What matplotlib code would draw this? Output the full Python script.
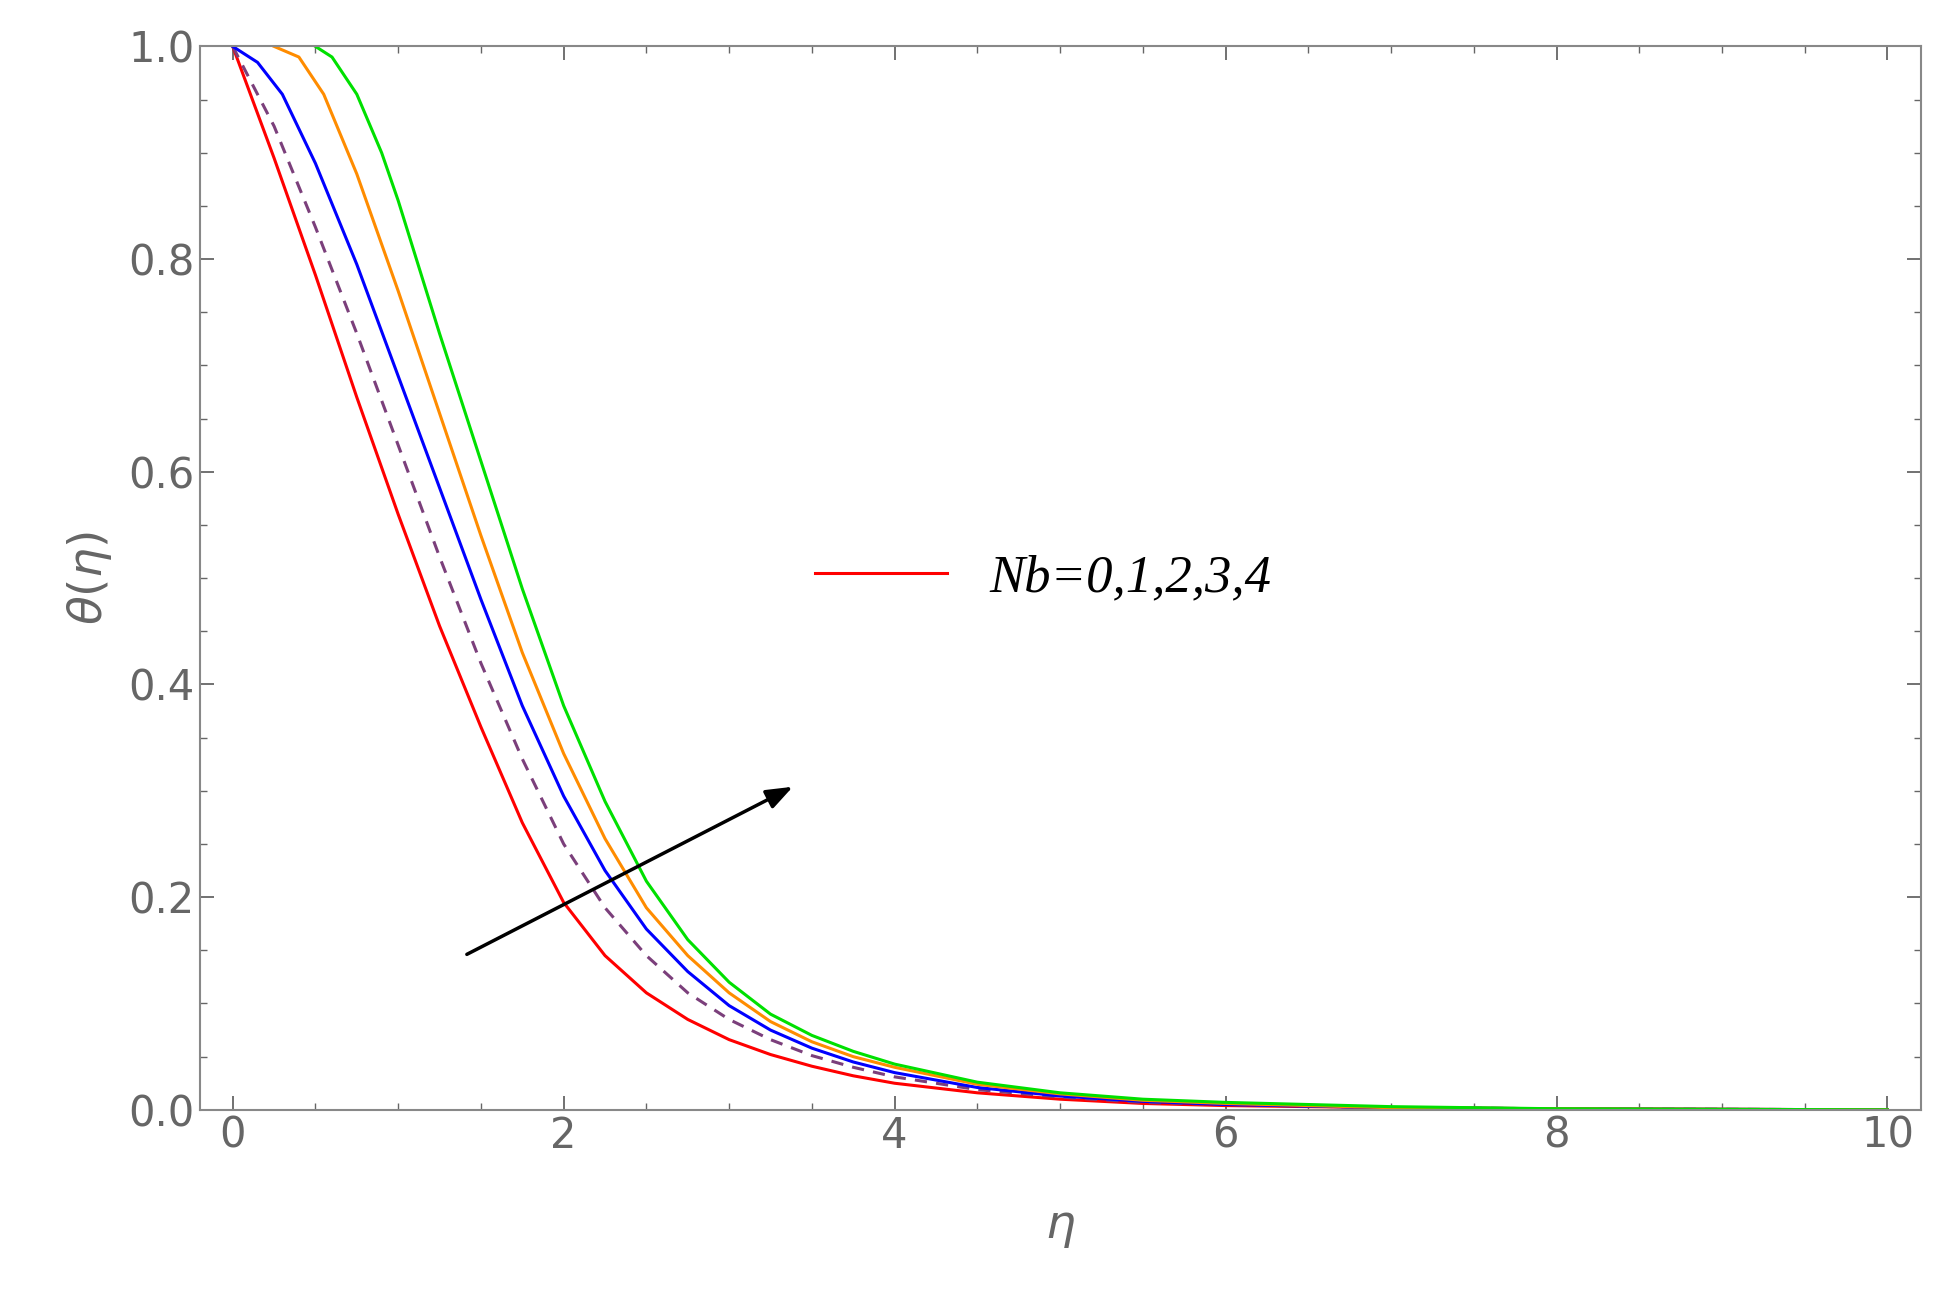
import matplotlib
matplotlib.use("Agg")
import matplotlib.pyplot as plt
from matplotlib.ticker import MultipleLocator

eta_red = [0, 0.25, 0.5, 0.75, 1.0, 1.25, 1.5, 1.75, 2.0, 2.25, 2.5, 2.75, 3.0, 3.25, 3.5, 3.75, 4.0, 4.5, 5.0, 5.5, 6.0, 7.0, 8.0, 10.0]
th_red = [1.0, 0.895, 0.785, 0.67, 0.56, 0.455, 0.36, 0.27, 0.195, 0.145, 0.11, 0.085, 0.066, 0.052, 0.041, 0.032, 0.025, 0.016, 0.01, 0.006, 0.004, 0.002, 0.001, 0.0]
eta_dash = [0, 0.25, 0.5, 0.75, 1.0, 1.25, 1.5, 1.75, 2.0, 2.25, 2.5, 2.75, 3.0, 3.25, 3.5, 3.75, 4.0, 4.5, 5.0, 5.5, 6.0, 7.0, 8.0, 10.0]
th_dash = [1.0, 0.925, 0.83, 0.73, 0.625, 0.52, 0.42, 0.33, 0.25, 0.19, 0.145, 0.11, 0.085, 0.066, 0.051, 0.04, 0.031, 0.019, 0.012, 0.007, 0.005, 0.002, 0.001, 0.0]
eta_blue = [0, 0.15, 0.3, 0.5, 0.75, 1.0, 1.25, 1.5, 1.75, 2.0, 2.25, 2.5, 2.75, 3.0, 3.25, 3.5, 3.75, 4.0, 4.5, 5.0, 5.5, 6.0, 7.0, 8.0, 10.0]
th_blue = [1.0, 0.985, 0.955, 0.89, 0.795, 0.69, 0.585, 0.48, 0.38, 0.295, 0.225, 0.17, 0.13, 0.098, 0.075, 0.058, 0.045, 0.035, 0.021, 0.013, 0.008, 0.005, 0.002, 0.001, 0.0]
eta_orange = [0.25, 0.4, 0.55, 0.75, 1.0, 1.25, 1.5, 1.75, 2.0, 2.25, 2.5, 2.75, 3.0, 3.25, 3.5, 3.75, 4.0, 4.5, 5.0, 5.5, 6.0, 7.0, 8.0, 10.0]
th_orange = [1.0, 0.99, 0.955, 0.88, 0.77, 0.655, 0.54, 0.43, 0.335, 0.255, 0.19, 0.145, 0.11, 0.083, 0.064, 0.05, 0.04, 0.024, 0.015, 0.009, 0.006, 0.002, 0.001, 0.0]
eta_green = [0.5, 0.6, 0.75, 0.9, 1.0, 1.25, 1.5, 1.75, 2.0, 2.25, 2.5, 2.75, 3.0, 3.25, 3.5, 3.75, 4.0, 4.5, 5.0, 5.5, 6.0, 7.0, 8.0, 10.0]
th_green = [1.0, 0.99, 0.955, 0.9, 0.855, 0.73, 0.61, 0.49, 0.38, 0.29, 0.215, 0.16, 0.12, 0.09, 0.07, 0.055, 0.043, 0.026, 0.016, 0.01, 0.007, 0.003, 0.001, 0.0]

fig = plt.figure(figsize=(19.38, 12.89), dpi=100)
ax = fig.add_axes([0.103, 0.139, 0.888, 0.825])
ax.plot(eta_red, th_red, color="#ff0000", lw=2.2, label="Nb=0,1,2,3,4")
ax.plot(eta_dash, th_dash, color="#7b3f7b", lw=2.2, ls=(0, (4, 3)))
ax.plot(eta_blue, th_blue, color="#0000ff", lw=2.2)
ax.plot(eta_orange, th_orange, color="#ff8c00", lw=2.2)
ax.plot(eta_green, th_green, color="#00e000", lw=2.2)
ax.annotate("", xy=(3.4, 0.305), xytext=(1.4, 0.145),
            arrowprops=dict(arrowstyle="-|>,head_width=0.6,head_length=1.6", color="black", lw=2.5))
ax.set_xlim(-0.2, 10.2)
ax.set_ylim(0, 1.0)
ax.xaxis.set_major_locator(MultipleLocator(2))
ax.xaxis.set_minor_locator(MultipleLocator(0.5))
ax.yaxis.set_major_locator(MultipleLocator(0.2))
ax.yaxis.set_minor_locator(MultipleLocator(0.05))
ax.tick_params(which="both", direction="in", top=True, right=True, colors="#666666", labelsize=30)
ax.tick_params(which="major", length=10, width=1.3)
ax.tick_params(which="minor", length=5, width=1)
ax.xaxis.set_major_formatter(matplotlib.ticker.FuncFormatter(lambda v, p: f"{v:.0f}"))
ax.yaxis.set_major_formatter(matplotlib.ticker.FormatStrFormatter("%.1f"))
for s in ax.spines.values():
    s.set_color("#888888"); s.set_linewidth(1.5)
ax.set_xlabel(r"$\eta$", fontsize=34, color="#666666", labelpad=35)
ax.set_ylabel(r"$\theta(\eta)$", fontsize=34, color="#666666", labelpad=10)
leg = ax.legend(loc="center left", bbox_to_anchor=(0.33, 0.5), frameon=False, handlelength=2.5,
                prop={"family": "Liberation Serif", "style": "italic", "size": 38})
fig.savefig("out.png", dpi=100)
